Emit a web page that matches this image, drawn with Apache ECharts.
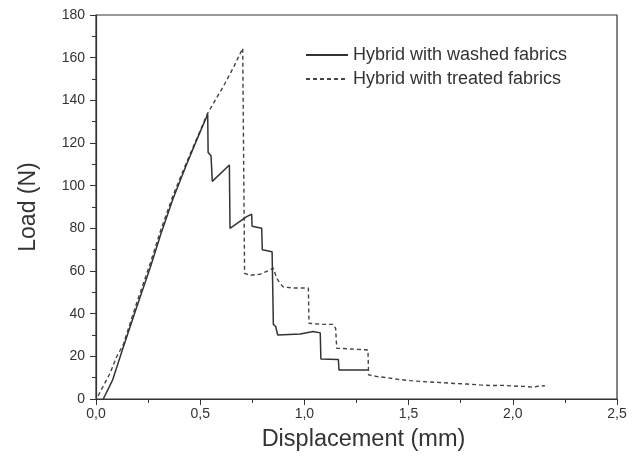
<!DOCTYPE html>
<html>
<head>
<meta charset="utf-8">
<script src="https://cdn.jsdelivr.net/npm/echarts@6/dist/echarts.min.js"></script>
<style>
html,body{margin:0;padding:0;background:#fff;}
#chart{width:632px;height:457px;}
</style>
</head>
<body>
<div id="chart"></div>
<script>
// Data
const seriesNames = ['Hybrid with washed fabrics', 'Hybrid with treated fabrics'];

const washedDisp = [0.035, 0.08, 0.10, 0.13, 0.195, 0.26, 0.31, 0.37, 0.435, 0.49, 0.536, 0.538, 0.552, 0.556, 0.558, 0.64, 0.643, 0.723, 0.747, 0.749, 0.795, 0.798, 0.845, 0.848, 0.851, 0.862, 0.872, 0.98, 1.043, 1.076, 1.079, 1.163, 1.166, 1.307];
const washedLoad = [0, 9, 15, 24, 43, 61.5, 77, 94, 110, 123, 133.5, 115.5, 114, 113.5, 102, 109.7, 80, 85.5, 86.6, 81, 80, 70, 69, 69, 35, 34, 30, 30.5, 31.6, 31, 18.7, 18.5, 13.6, 13.6];

const treatedDisp = [0.01, 0.04, 0.067, 0.099, 0.131, 0.195, 0.26, 0.31, 0.37, 0.435, 0.49, 0.536, 0.611, 0.66, 0.704, 0.711, 0.713, 0.74, 0.787, 0.835, 0.851, 0.867, 0.885, 0.899, 0.95, 1.019, 1.022, 1.08, 1.139, 1.15, 1.155, 1.305, 1.308, 1.35, 1.395, 1.45, 1.507, 1.58, 1.651, 1.72, 1.78, 1.843, 1.9, 1.95, 2.0, 2.05, 2.098, 2.12, 2.154];
const treatedLoad = [1.5, 7, 12, 19.8, 25.5, 45, 63.5, 79, 95.5, 111, 123.5, 134, 146.5, 155.5, 164.4, 164, 58.9, 58, 58.5, 60.5, 61.3, 56.6, 54, 52.5, 52, 52, 35.5, 35, 35, 33, 23.8, 23, 11.3, 10.5, 10, 9.2, 8.6, 8.1, 7.7, 7.3, 7.0, 6.6, 6.3, 6.4, 6.1, 5.9, 5.5, 6.0, 6.2];

const xTicks = {min: 0, max: 2.5, step: 0.5};
const yTicks = {min: 0, max: 180, step: 20};

function pairs(xs, ys) { return xs.map((x, i) => [x, ys[i]]); }

const ink = '#333333';
const chart = echarts.init(document.getElementById('chart'), null, {renderer: 'canvas'});
chart.setOption({
  animation: false,
  backgroundColor: '#ffffff',
  grid: {left: 96, right: 15, top: 15, bottom: 58, show: true, borderColor: ink, borderWidth: 1.2, containLabel: false},
  legend: {
    orient: 'vertical', left: 300, top: 41, itemWidth: 42, itemHeight: 14, itemGap: 6,
    itemStyle: {opacity: 0},
    textStyle: {fontFamily: 'Liberation Sans, Arial', fontSize: 18, color: ink},
    data: seriesNames
  },
  xAxis: {
    type: 'value', min: xTicks.min, max: xTicks.max, interval: xTicks.step,
    name: 'Displacement (mm)', nameLocation: 'middle', nameGap: 29,
    nameTextStyle: {fontFamily: 'Liberation Sans, Arial', fontSize: 23.5, color: ink, padding: [0,0,0,14]},
    axisLine: {lineStyle: {color: ink, width: 1.2}},
    axisTick: {inside: false, length: 6, lineStyle: {color: ink}},
    minorTick: {show: true, splitNumber: 2, length: 4, lineStyle: {color: ink}},
    splitLine: {show: false},
    axisLabel: {margin: 8, fontFamily: 'Liberation Sans, Arial', fontSize: 14, color: ink,
      formatter: v => v.toFixed(1).replace('.', ',')}
  },
  yAxis: {
    type: 'value', min: yTicks.min, max: yTicks.max, interval: yTicks.step,
    name: 'Load (N)', nameLocation: 'middle', nameGap: 56,
    nameTextStyle: {fontFamily: 'Liberation Sans, Arial', fontSize: 23, color: ink},
    axisLine: {show: true, lineStyle: {color: ink, width: 1.2}},
    axisTick: {show: true, inside: false, length: 6, lineStyle: {color: ink}},
    minorTick: {show: true, splitNumber: 2, length: 4, lineStyle: {color: ink}},
    splitLine: {show: false},
    axisLabel: {margin: 11, fontFamily: 'Liberation Sans, Arial', fontSize: 14, color: ink}
  },
  series: [
    {name: seriesNames[1], type: 'line', data: pairs(treatedDisp, treatedLoad), symbol: 'none',
     lineStyle: {color: '#444', width: 1.4, type: [4, 3]}, itemStyle: {color: '#444'}, z: 2},
    {name: seriesNames[0], type: 'line', data: pairs(washedDisp, washedLoad), symbol: 'none',
     lineStyle: {color: '#333', width: 1.5, type: 'solid'}, itemStyle: {color: '#333'}, z: 3}
  ]
});
</script>
</body>
</html>
